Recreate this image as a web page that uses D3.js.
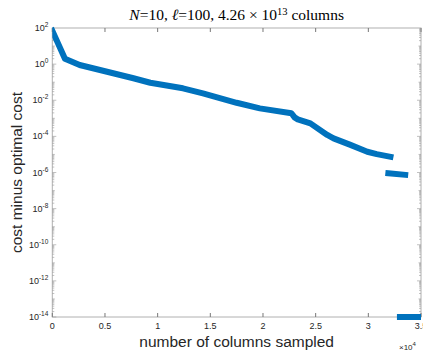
<!DOCTYPE html>
<html>
<head>
<meta charset="utf-8">
<script src="https://cdn.jsdelivr.net/npm/d3@7"></script>
<style>
  body { margin: 0; background: #fff; }
  text { font-family: "Liberation Sans", Arial, sans-serif; fill: #262626; }
  text.title { font-family: "Liberation Serif", "DejaVu Serif", serif; fill: #000; }
</style>
</head>
<body>
<div id="chart"></div>
<script>
// columns sampled (x 1e4) and log10(cost minus optimal cost)
var mainX = [0, 0.12, 0.26, 0.52, 0.77, 0.93, 1.24, 1.43, 1.75, 1.97, 2.27, 2.30, 2.33, 2.45, 2.61, 2.67, 2.83, 2.99, 3.08, 3.21];
var mainY = [1.85, 0.30, -0.05, -0.42, -0.78, -1.03, -1.34, -1.62, -2.14, -2.45, -2.72, -2.95, -3.06, -3.28, -3.92, -4.11, -4.47, -4.85, -4.98, -5.13];
var midX = [3.19, 3.35];
var midY = [-6.04, -6.13];
var lowX = [3.30, 3.52];
var lowY = [-14, -14];

var xTicks = [0, 0.5, 1, 1.5, 2, 2.5, 3, 3.5];
var xTickLabels = ["0", "0.5", "1", "1.5", "2", "2.5", "3", "3.5"];
var yTickExp = [2, 0, -2, -4, -6, -8, -10, -12, -14];

var W = 423, H = 353;
var pl = 52.3, pr = 421, pt = 28, pb = 317;

var svg = d3.select("#chart").append("svg").attr("width", W).attr("height", H);

var x = d3.scaleLinear().domain([0, 3.5]).range([pl, pr]);
var y = d3.scaleLinear().domain([-14, 2]).range([pb, pt]);

svg.append("defs").append("clipPath").attr("id", "clip")
  .append("rect").attr("x", pl).attr("y", pt - 4).attr("width", pr - pl).attr("height", pb - pt + 8);

var line = d3.line().x(function(d){ return x(d[0]); }).y(function(d){ return y(d[1]); });

var series = [d3.zip(mainX, mainY), d3.zip(midX, midY), d3.zip(lowX, lowY)];

// box
svg.append("rect").attr("x", pl).attr("y", pt).attr("width", pr - pl).attr("height", pb - pt)
  .attr("fill", "none").attr("stroke", "#b0b0b0").attr("stroke-width", 1);

// x ticks, bottom and top, pointing in
var gx = svg.append("g");
xTicks.forEach(function(t, i){
  var px = x(t);
  gx.append("line").attr("x1", px).attr("x2", px).attr("y1", pb).attr("y2", pb - 4).attr("stroke", "#777");
  gx.append("line").attr("x1", px).attr("x2", px).attr("y1", pt).attr("y2", pt + 4).attr("stroke", "#777");
  gx.append("text").attr("x", px).attr("y", pb + 12).attr("text-anchor", "middle")
    .attr("font-size", 9).attr("fill", "#444").text(xTickLabels[i]);
});

// y ticks, major every 2 decades, minor at 2..9 of each decade
var gy = svg.append("g");
d3.range(-14, 2).forEach(function(e){
  d3.range(1, 10).forEach(function(m){
    var py = y(e + Math.log10(m));
    var len = m === 1 ? (e % 2 === 0 ? 4 : 2.5) : 2;
    gy.append("line").attr("x1", pl).attr("x2", pl + len).attr("y1", py).attr("y2", py).attr("stroke", "#999").attr("stroke-width", 0.6);
    gy.append("line").attr("x1", pr).attr("x2", pr - len).attr("y1", py).attr("y2", py).attr("stroke", "#999").attr("stroke-width", 0.6);
  });
});
yTickExp.forEach(function(e){
  var t = gy.append("text").attr("x", pl - 4).attr("y", y(e) + 3).attr("text-anchor", "end")
    .attr("font-size", 9).attr("fill", "#444");
  t.append("tspan").text("10");
  t.append("tspan").attr("dy", -4).attr("font-size", 6.5).text(e);
});

// data
var gd = svg.append("g").attr("clip-path", "url(#clip)");
series.forEach(function(s){
  gd.append("path").datum(s).attr("d", line).attr("fill", "none")
    .attr("stroke", "#0072BD").attr("stroke-width", 6).attr("stroke-linecap", "square").attr("stroke-linejoin", "round");
});

// title
var title = svg.append("text").attr("class", "title").attr("x", (pl + pr) / 2).attr("y", 20)
  .attr("text-anchor", "middle").attr("font-size", 15.5);
title.append("tspan").attr("font-style", "italic").text("N");
title.append("tspan").text("=10, ");
title.append("tspan").attr("font-style", "italic").text("\u2113");
title.append("tspan").text("=100, 4.26 \u00d7 10");
title.append("tspan").attr("dy", -5).attr("font-size", 10.5).text("13");
title.append("tspan").attr("dy", 5).text(" columns");

// axis labels
svg.append("text").attr("x", (pl + pr) / 2).attr("y", 347).attr("text-anchor", "middle")
  .attr("font-size", 15.5).text("number of columns sampled");
svg.append("text").attr("transform", "translate(22," + ((pt + pb) / 2) + ") rotate(-90)")
  .attr("text-anchor", "middle").attr("font-size", 15.5).text("cost minus optimal cost");

// exponent
var ex = svg.append("text").attr("x", 399).attr("y", 350).attr("font-size", 8).attr("fill", "#444");
ex.append("tspan").text("\u00d710");
ex.append("tspan").attr("dy", -4).attr("font-size", 6).text("4");
</script>
</body>
</html>
